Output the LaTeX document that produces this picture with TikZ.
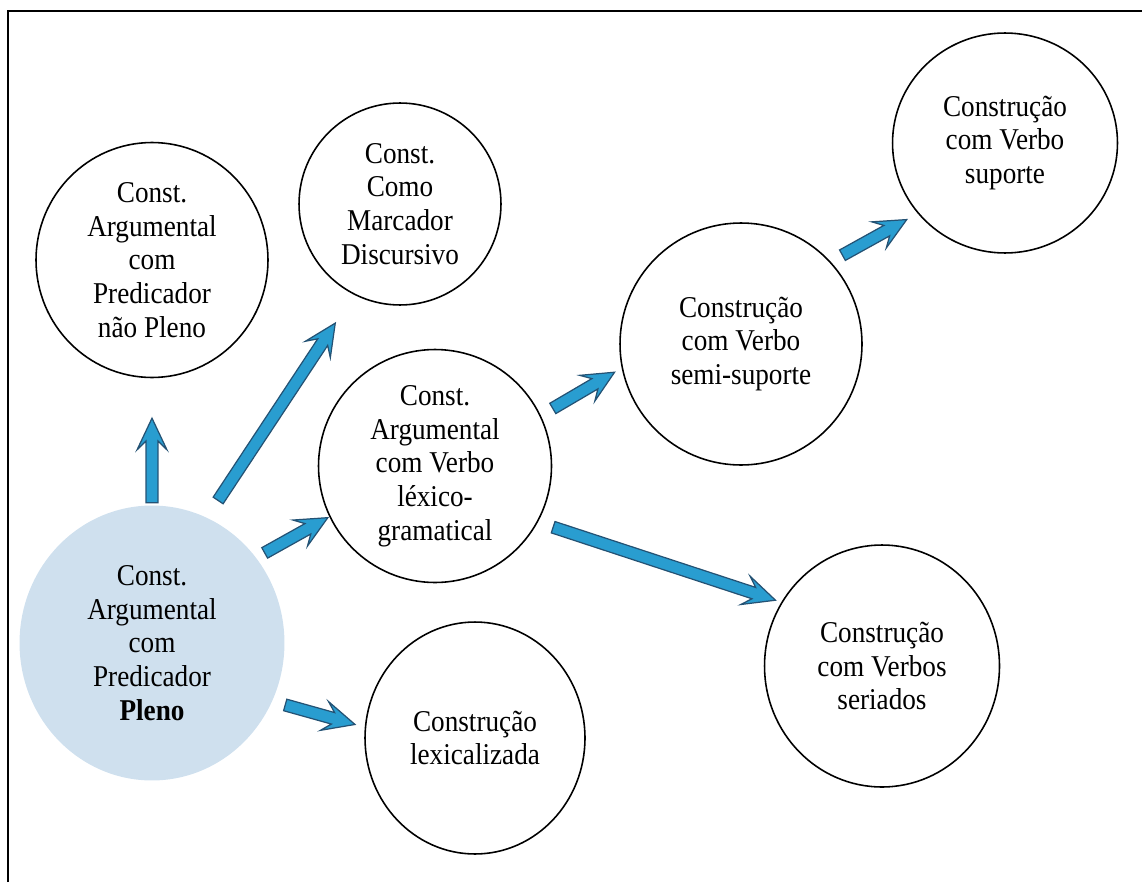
\documentclass[tikz,border=0pt]{standalone}
\usepackage{fontspec}
\setmainfont{Liberation Serif}[FakeStretch=0.9]
\usetikzlibrary{calc,shapes.geometric}

\definecolor{arrowblue}{RGB}{41,157,208}
\definecolor{arrowedge}{RGB}{36,82,116}
\definecolor{plenofill}{RGB}{207,224,238}

% block arrow from (#1)!#3!(#2) to (#1)!#4!(#2), shifted by #5 and #6
\newcommand{\fatarrow}[6]{%
  \path[blockarrow] let \p1=($(#1)!#3!(#2)+(#5)$), \p2=($(#1)!#4!(#2)+(#6)$),
    \n1={atan2(\y2-\y1,\x2-\x1)}, \n2={veclen(\x2-\x1,\y2-\y1)} in
    ($(\p1)+(\n1+90:3.4pt)$) -- ($(\p1)+(\n1:\n2-13pt)+(\n1+90:3.4pt)$)
    -- ($(\p1)+(\n1:\n2-18pt)+(\n1+90:8.5pt)$) -- (\p2)
    -- ($(\p1)+(\n1:\n2-18pt)+(\n1-90:8.5pt)$) -- ($(\p1)+(\n1:\n2-13pt)+(\n1-90:3.4pt)$)
    -- ($(\p1)+(\n1-90:3.4pt)$) -- cycle;}

\begin{document}
\begin{tikzpicture}[x=0.02cm, y=-0.02cm,
    bubble/.style={draw, ellipse, line width=0.9pt, align=center, inner sep=0pt,
      font=\fontsize{17.2}{19.2}\selectfont},
    blockarrow/.style={draw=arrowedge, fill=arrowblue, line width=0.7pt, line join=miter}]
    \useasboundingbox (0,0) rectangle (1142,882);
    \draw[line width=1.7pt] (8,882) -- (8,11) -- (1142,11);

    % Define nodes
    \node[bubble, draw=none, fill=plenofill, minimum width=5.3cm, minimum height=5.5cm] (pleno) at (152,643)
        {Const.\\Argumental\\com\\Predicador\\\textbf{Pleno}};
    \node[bubble, minimum width=4.64cm, minimum height=4.7cm] (naopleno) at (152,260)
        {Const.\\Argumental\\com\\Predicador\\não Pleno};
    \node[bubble, minimum width=4.04cm, minimum height=4.04cm] (marcador) at (400,204)
        {Const.\\Como\\Marcador\\Discursivo};
    \node[bubble, minimum width=4.66cm, minimum height=4.66cm] (lexgram) at (435,466)
        {Const.\\Argumental\\com Verbo\\léxico-\\gramatical};
    \node[bubble, minimum width=4.84cm, minimum height=4.84cm] (semisup) at (741,344)
        {Construção\\com Verbo\\semi-suporte};
    \node[bubble, minimum width=4.5cm, minimum height=4.4cm] (suporte) at (1005,143)
        {Construção\\com Verbo\\suporte};
    \node[bubble, minimum width=4.7cm, minimum height=4.84cm] (seriados) at (882,666)
        {Construção\\com Verbos\\seriados};
    \node[bubble, minimum width=4.4cm, minimum height=4.64cm] (lexicaliz) at (475,738)
        {Construção\\lexicalizada};

    % Draw arrows
    \fatarrow{pleno}{naopleno}{0.366}{0.587}{0,0}{0,0}
    \fatarrow{pleno}{marcador}{0.311}{0.731}{-11,-6}{2,1}
    \fatarrow{pleno}{lexgram}{0.430}{0.646}{-9,-14}{-7,-11}
    \fatarrow{pleno}{lexicaliz}{0.431}{0.647}{-6,21}{-6,20}
    \fatarrow{lexgram}{semisup}{0.398}{0.613}{-4,-9}{-8,-19}
    \fatarrow{lexgram}{seriados}{0.271}{0.746}{-3,7}{7,-15}
    \fatarrow{semisup}{suporte}{0.407}{0.624}{-6,-7}{1,1}
\end{tikzpicture}
\end{document}
